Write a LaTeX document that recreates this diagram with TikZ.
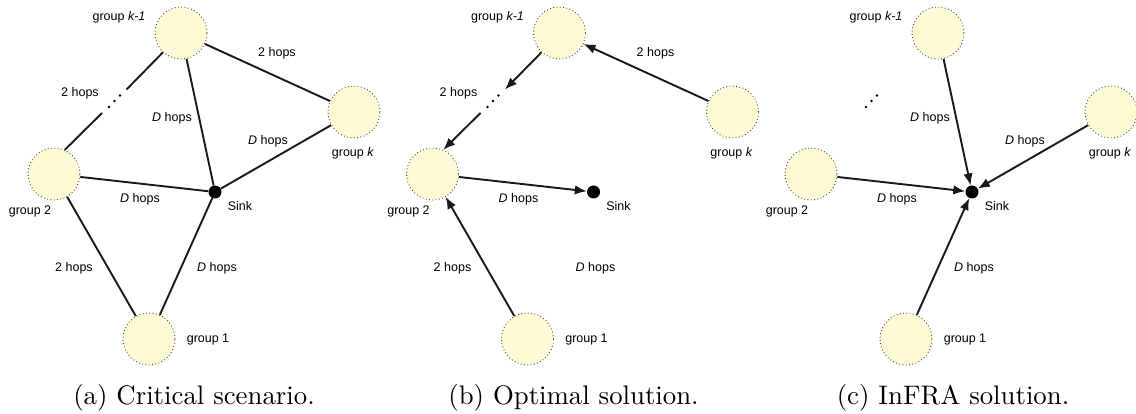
\documentclass[tikz,border=0pt]{standalone}
\usepackage{fontspec}
\usepackage{graphicx}
\usetikzlibrary{arrows.meta}
\newfontfamily\labfont{Liberation Sans}
\definecolor{grpfill}{RGB}{255,250,214}
\definecolor{grpline}{RGB}{70,70,70}
\begin{document}
\begin{tikzpicture}[x=1pt,y=-1pt,
  grp/.style={circle,minimum size=52pt,inner sep=0pt,fill=grpfill,draw=grpline,
              line width=0.9pt,dash pattern=on 0.9pt off 2.4pt},
  sinkdot/.style={circle,fill=black,minimum size=13pt,inner sep=0pt},
  gapdot/.style={circle,fill=black,minimum size=2.6pt,inner sep=0pt},
  lab/.style={font=\labfont\fontsize{12.5}{14}\selectfont,inner sep=0pt},
  captext/.style={inner sep=0pt},
  edge/.style={line width=1.9pt,draw=black!90},
  arr/.style={edge,-{Latex[length=12pt,width=9.5pt]}}]
\useasboundingbox (0,0) rectangle (1136,414);

% the same five groups, sink and gap in each of the three panels
\foreach \p/\dx in {a/0,b/378.5,c/757}{
  \begin{scope}[xshift=\dx]
    \node[grp] (\p-gk1) at (181,33) {};
    \node[grp] (\p-gk)  at (354,112) {};
    \node[grp] (\p-g2)  at (54,174) {};
    \node[grp] (\p-g1)  at (149,339) {};
    \node[sinkdot] (\p-sink) at (215,192) {};
    \coordinate (\p-gapL) at (102,113);
    \coordinate (\p-gapU) at (126.5,89.5);
    \node[gapdot] (\p-d1) at (109,107) {};
    \node[gapdot] (\p-d2) at (114.5,101) {};
    \node[gapdot] (\p-d3) at (120,95.5) {};
    \node[lab] (\p-lk1) at (119,17) {group \textit{k-1}};
    \node[lab] (\p-lk)  at (353,153) {group \textit{k}};
    \node[lab] (\p-l2)  at (30,211) {group 2};
    \node[lab] (\p-l1)  at (208,339) {group 1};
    \node[lab] (\p-ls)  at (240,206) {Sink};
  \end{scope}
}

% (a) critical scenario
\draw[edge] (a-gk1) -- (a-gk);
\draw[edge] (a-gk1) -- (a-sink);
\draw[edge] (a-gk) -- (a-sink);
\draw[edge] (a-g2) -- (a-sink);
\draw[edge] (a-g2) -- (a-g1);
\draw[edge] (a-g1) -- (a-sink);
\draw[edge] (a-g2.66) -- (a-gapL);
\draw[edge] (a-gapU) -- (a-gk1.227);
\node[lab] (a-h1) at (277,53)  {2 hops};
\node[lab] (a-h2) at (80,93)   {2 hops};
\node[lab] (a-h3) at (172,118) {\textit{D} hops};
\node[lab] (a-h4) at (268,141) {\textit{D} hops};
\node[lab] (a-h5) at (140,199) {\textit{D} hops};
\node[lab] (a-h6) at (74,268)  {2 hops};
\node[lab] (a-h7) at (217,268) {\textit{D} hops};
\node[captext] (a-cap) at (194,398) {\scalebox{2.68}{(a) Critical scenario.}};

% (b) optimal solution
\begin{scope}[xshift=378.5]
\draw[arr] (b-gk) -- (b-gk1);
\draw[arr] (b-gk1.227) -- (b-gapU);
\draw[arr] (b-gapL) -- (b-g2.66);
\draw[arr] (b-g2) -- (b-sink);
\draw[arr] (b-g1) -- (b-g2);
\node[lab] (b-h1) at (277,53)  {2 hops};
\node[lab] (b-h2) at (80,93)   {2 hops};
\node[lab] (b-h5) at (140,199) {\textit{D} hops};
\node[lab] (b-h6) at (74,268)  {2 hops};
\node[lab] (b-h7) at (217,268) {\textit{D} hops};
\node[captext] (b-cap) at (195,398) {\scalebox{2.68}{(b) Optimal solution.}};
\end{scope}

% (c) InFRA solution
\begin{scope}[xshift=757]
\draw[arr] (c-gk1) -- (c-sink);
\draw[arr] (c-gk) -- (c-sink);
\draw[arr] (c-g2) -- (c-sink);
\draw[arr] (c-g1) -- (c-sink);
\node[lab] (c-h3) at (173,118) {\textit{D} hops};
\node[lab] (c-h4) at (268,141) {\textit{D} hops};
\node[lab] (c-h5) at (140,199) {\textit{D} hops};
\node[lab] (c-h7) at (217,268) {\textit{D} hops};
\node[captext] (c-cap) at (196,398) {\scalebox{2.68}{(c) InFRA solution.}};
\end{scope}
\end{tikzpicture}
\end{document}
